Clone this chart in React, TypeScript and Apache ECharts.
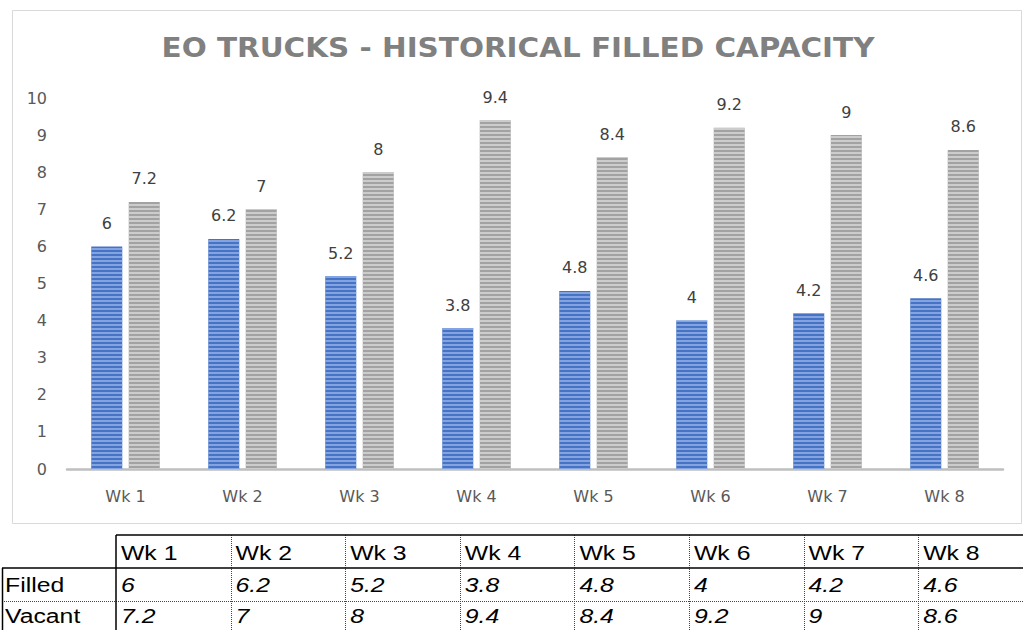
import React, { useEffect, useRef } from "react";
import * as echarts from "echarts";

const categories = ["Wk 1", "Wk 2", "Wk 3", "Wk 4", "Wk 5", "Wk 6", "Wk 7", "Wk 8"];
const filled = [6, 6.2, 5.2, 3.8, 4.8, 4, 4.2, 4.6];
const vacant = [7.2, 7, 8, 9.4, 8.4, 9.2, 9, 8.6];
const rowLabels = ["Filled", "Vacant"];
const titleText = "EO TRUCKS - HISTORICAL FILLED CAPACITY";

const FONT = "DejaVu Sans";
const TFONT = "'Liberation Sans', Arial, sans-serif";

function measure(text: string, font: string): number {
  const c = document.createElement("canvas");
  const ctx = c.getContext("2d");
  if (!ctx) return 0;
  ctx.font = font;
  return ctx.measureText(text).width;
}

function buildTitle(): any {
  const font = `bold 27px ${FONT}`;
  const target = 713;
  const w = measure(titleText, font);
  const sx = w > 0 ? target / w : 1;
  return {
    type: "text",
    x: 518,
    y: 48,
    scaleX: sx,
    style: { text: titleText, font, fill: "#808080", textAlign: "center", textVerticalAlign: "middle" },
    silent: true,
  };
}

function buildTable(): any[] {
  const els: any[] = [];
  const colX0 = 116;
  const colW = 114.6;
  const top = 535;
  const hdrBottom = 568;
  const rowSep = 601;
  const bottom = 632;
  const sx = 1.18;
  const solid = { stroke: "#000", lineWidth: 1.5 };
  const dotted = { stroke: "#444", lineWidth: 1, lineDash: [1, 1] };
  for (let i = 1; i < categories.length; i++) {
    const x = Math.round(colX0 + i * colW) + 0.5;
    els.push({ type: "line", shape: { x1: x, y1: top, x2: x, y2: bottom }, style: dotted, silent: true });
  }
  els.push({ type: "line", shape: { x1: 2, y1: rowSep + 0.5, x2: 1023, y2: rowSep + 0.5 }, style: dotted, silent: true });
  els.push({ type: "line", shape: { x1: colX0, y1: top, x2: 1023, y2: top }, style: solid, silent: true });
  els.push({ type: "line", shape: { x1: colX0, y1: top, x2: colX0, y2: bottom }, style: solid, silent: true });
  els.push({ type: "line", shape: { x1: 2, y1: hdrBottom, x2: 1023, y2: hdrBottom }, style: solid, silent: true });
  els.push({ type: "line", shape: { x1: 2.5, y1: hdrBottom, x2: 2.5, y2: bottom }, style: solid, silent: true });

  categories.forEach((c, i) => {
    els.push({
      type: "text",
      x: colX0 + i * colW + 5,
      y: 553,
      scaleX: sx,
      style: { text: c, font: `21px ${TFONT}`, fill: "#000", textAlign: "left", textVerticalAlign: "middle" },
      silent: true,
    });
  });
  const rows = [filled, vacant];
  rowLabels.forEach((r, ri) => {
    const cy = ri === 0 ? 585 : 616;
    els.push({
      type: "text",
      x: 5,
      y: cy,
      scaleX: sx,
      style: { text: r, font: `21px ${TFONT}`, fill: "#000", textAlign: "left", textVerticalAlign: "middle" },
      silent: true,
    });
    rows[ri].forEach((v, i) => {
      els.push({
        type: "text",
        x: colX0 + i * colW + 5,
        y: cy,
        scaleX: sx,
        style: { text: String(v), font: `italic 21px ${TFONT}`, fill: "#000", textAlign: "left", textVerticalAlign: "middle" },
        silent: true,
      });
    });
  });
  return els;
}

export default function App() {
  const ref = useRef<HTMLDivElement>(null);
  useEffect(() => {
    if (!ref.current) return;
    const chart = echarts.init(ref.current, undefined, { renderer: "svg" });
    const label = {
      show: true,
      position: "top",
      distance: 15,
      color: "#404040",
      fontSize: 16,
      fontFamily: FONT,
    };
    chart.setOption({
      animation: false,
      backgroundColor: "#fff",
      grid: { left: 67, right: 20, top: 98, bottom: 161, containLabel: false },
      xAxis: {
        type: "category",
        data: categories,
        axisLine: { show: true, lineStyle: { color: "#bfbfbf", width: 2.5 } },
        axisTick: { show: false },
        axisLabel: { color: "#595959", fontSize: 16, fontFamily: FONT, margin: 19 },
      },
      yAxis: {
        type: "value",
        min: 0,
        max: 10,
        interval: 1,
        axisLine: { show: false },
        axisTick: { show: false },
        splitLine: { show: false },
        axisLabel: { color: "#595959", fontSize: 16, fontFamily: FONT, margin: 20 },
      },
      series: [
        {
          name: "Filled",
          type: "bar",
          data: filled,
          barWidth: 31,
          barGap: "21%",
          itemStyle: {
            color: "#4673c4",
            decal: {
              symbol: "rect",
              symbolSize: 1,
              dashArrayX: [1, 0],
              dashArrayY: [1.5, 1.5],
              rotation: 0,
              color: "rgba(150,180,235,0.75)",
            },
          },
          label,
        },
        {
          name: "Vacant",
          type: "bar",
          data: vacant,
          barWidth: 31,
          itemStyle: {
            color: "#a2a2a2",
            decal: {
              symbol: "rect",
              symbolSize: 1,
              dashArrayX: [1, 0],
              dashArrayY: [1.5, 1.5],
              rotation: 0,
              color: "rgba(215,215,215,0.8)",
            },
          },
          label,
        },
      ],
      graphic: [
        {
          type: "rect",
          shape: { x: 12.5, y: 10.5, width: 1009, height: 513 },
          style: { fill: "none", stroke: "#d9d9d9", lineWidth: 1 },
          silent: true,
          z: -1,
        },
        buildTitle(),
        ...buildTable(),
      ],
    });
    return () => chart.dispose();
  }, []);
  return <div ref={ref} style={{ width: 1023, height: 630, position: "absolute", left: 0, top: 0 }} />;
}
